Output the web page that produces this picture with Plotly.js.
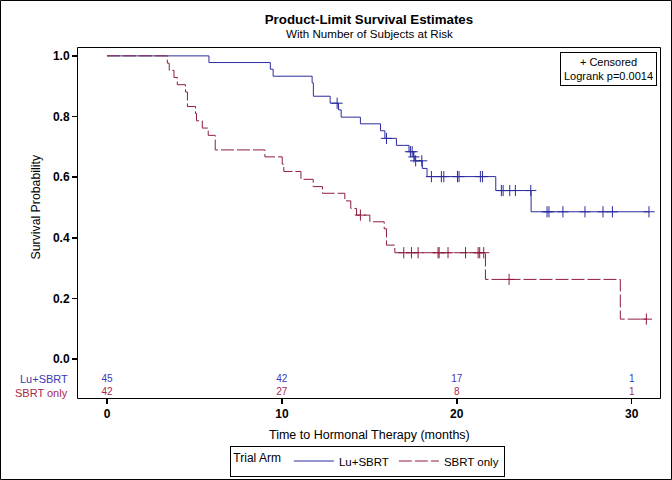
<!DOCTYPE html>
<html>
<head>
<meta charset="utf-8">
<script src="https://cdn.plot.ly/plotly-3.0.1.min.js"></script>
<style>html,body{margin:0;padding:0;background:#fff;}#chart{width:672px;height:480px;}</style>
</head>
<body>
<div id="chart"></div>
<script>
// ---- Data ----
const luTime = [0, 5.83, 9.34, 9.5, 11.73, 11.8, 12.76, 13.24, 13.39, 14.49, 15.64, 15.89, 16.55, 17.27, 17.52, 17.6, 18.03, 18.3, 22.23, 24.25, 30.99];
const luSurv = [1, 0.978, 0.956, 0.933, 0.911, 0.867, 0.844, 0.822, 0.798, 0.776, 0.753, 0.728, 0.705, 0.684, 0.667, 0.654, 0.629, 0.602, 0.556, 0.486, 0.486];
const luCensTime = [13.16, 15.98, 17.35, 17.45, 17.55, 17.65, 18.0, 18.55, 19.12, 19.26, 20.04, 20.13, 21.35, 21.47, 22.55, 22.65, 23.03, 23.35, 24.23, 25.16, 25.27, 26.07, 27.33, 28.36, 28.9, 30.99];
const luCensSurv = [0.844, 0.728, 0.684, 0.684, 0.667, 0.654, 0.654, 0.602, 0.602, 0.602, 0.602, 0.602, 0.602, 0.602, 0.556, 0.556, 0.556, 0.556, 0.556, 0.486, 0.486, 0.486, 0.486, 0.486, 0.486, 0.486];

const sbTime = [0, 3.45, 3.56, 3.83, 4.02, 4.49, 4.6, 5.06, 5.12, 5.45, 5.79, 6.19, 9.03, 10.02, 10.11, 11.09, 11.79, 12.32, 13.6, 13.94, 14.27, 15.03, 15.85, 15.98, 16.46, 21.64, 29.35, 30.84];
const sbSurv = [1, 0.976, 0.952, 0.929, 0.905, 0.881, 0.833, 0.81, 0.786, 0.762, 0.738, 0.69, 0.667, 0.643, 0.619, 0.593, 0.569, 0.547, 0.522, 0.497, 0.475, 0.453, 0.43, 0.376, 0.351, 0.263, 0.132, 0.132];
const sbCensTime = [14.49, 16.97, 17.41, 17.79, 18.93, 18.99, 19.5, 20.5, 21.22, 21.31, 21.54, 22.99, 30.84];
const sbCensSurv = [0.475, 0.351, 0.351, 0.351, 0.351, 0.351, 0.351, 0.351, 0.351, 0.351, 0.351, 0.263, 0.132];

const riskTimes = [0, 10, 20, 30];
const luRisk = [45, 42, 17, 1];
const sbRisk = [42, 27, 8, 1];
const armNames = ['Lu+SBRT', 'SBRT only'];
const yTicks = [0, 0.2, 0.4, 0.6, 0.8, 1.0];
const yTickText = ['0.0', '0.2', '0.4', '0.6', '0.8', '1.0'];
const xTicks = [0, 10, 20, 30];

// ---- Styling ----
const FONT = '"Liberation Sans", Arial, sans-serif';
const BLUE = '#2B2B9E';
const RED = '#8E1D3D';
const BLUE_T = '#3838B8';
const RED_T = '#A8284A';
const RISK_Y = [-0.066, -0.110];
// plot-area pixel box (left, top, width, height) -> paper conversion helpers for frame lines
const PL = 78, PT = 48, PW = 582, PH = 350;
const px = v => (v - PL) / PW;
const py = v => (PT + PH - v) / PH;

const traces = [
  {x: luTime, y: luSurv, mode: 'lines', line: {shape: 'hv', color: BLUE, width: 1}, name: armNames[0], showlegend: true},
  {x: sbTime, y: sbSurv, mode: 'lines', line: {shape: 'hv', color: RED, width: 1, dash: '13px,3px'}, name: armNames[1], showlegend: true},
  {x: luCensTime, y: luCensSurv, mode: 'markers', marker: {symbol: 'cross-thin', size: 8, color: BLUE, line: {color: BLUE, width: 1}}, showlegend: false, hoverinfo: 'skip'},
  {x: sbCensTime, y: sbCensSurv, mode: 'markers', marker: {symbol: 'cross-thin', size: 8, color: RED, line: {color: RED, width: 1}}, showlegend: false, hoverinfo: 'skip'},
  {x: riskTimes, y: riskTimes.map(() => RISK_Y[0]), mode: 'text', text: luRisk.map(String), textfont: {family: FONT, size: 10, color: BLUE_T}, showlegend: false, hoverinfo: 'skip'},
  {x: riskTimes, y: riskTimes.map(() => RISK_Y[1]), mode: 'text', text: sbRisk.map(String), textfont: {family: FONT, size: 10, color: RED_T}, showlegend: false, hoverinfo: 'skip'}
];

const layout = {
  width: 672, height: 480,
  margin: {l: PL, r: 672 - PL - PW, t: PT, b: 480 - PT - PH, autoexpand: false},
  paper_bgcolor: '#fff', plot_bgcolor: '#fff',
  font: {family: FONT, size: 11, color: '#000'},
  title: {text: 'Product-Limit Survival Estimates', font: {family: FONT, size: 13.3, weight: 'bold', color: '#000'}, x: 0.549, xanchor: 'center', y: 1 - 19/480, yanchor: 'middle', yref: 'container', xref: 'container'},
  xaxis: {range: [-1.657, 31.62], tickvals: xTicks, ticks: 'outside', ticklen: 5, tickwidth: 1.6, tickcolor: '#000',
    showline: false, showgrid: false, zeroline: false,
    tickfont: {family: FONT, size: 12, weight: 'bold'}},
  yaxis: {range: [-0.128, 1.026], tickvals: yTicks, ticktext: yTickText, ticks: 'outside', ticklen: 5, tickwidth: 1.6, tickcolor: '#000',
    showline: false, showgrid: false, zeroline: false,
    tickfont: {family: FONT, size: 12, weight: 'bold'}},
  legend: {orientation: 'h', x: 0.498, xanchor: 'center', y: 1 - 461/480, yref: 'container', yanchor: 'middle',
    bordercolor: '#000', borderwidth: 1, font: {family: FONT, size: 11.5}, itemwidth: 40, tracegroupgap: 0,
    title: {text: 'Trial Arm', side: 'left', font: {family: FONT, size: 12}}},
  annotations: [
    {text: 'With Number of Subjects at Risk', xref: 'paper', yref: 'paper', x: 0.5, y: py(34), xanchor: 'center', yanchor: 'middle', showarrow: false, font: {family: FONT, size: 11.6}},
    {text: 'Survival Probability', textangle: -90, xref: 'paper', yref: 'y', x: px(36), y: 0.5, xanchor: 'center', yanchor: 'middle', showarrow: false, font: {family: FONT, size: 12.3}},
    {text: 'Time to Hormonal Therapy (months)', xref: 'paper', yref: 'paper', x: 0.5, y: py(435), xanchor: 'center', yanchor: 'middle', showarrow: false, font: {family: FONT, size: 12.5}},
    {text: '+ Censored<br>Logrank p=0.0014', xref: 'paper', yref: 'paper', x: px(657), y: py(52), xanchor: 'right', yanchor: 'top', showarrow: false, align: 'center', bordercolor: '#000', borderwidth: 1, borderpad: 3, bgcolor: '#fff', font: {family: FONT, size: 11}},
    {text: armNames[0], xref: 'paper', yref: 'y', x: 0, y: RISK_Y[0], xanchor: 'right', yanchor: 'middle', xshift: -8, showarrow: false, font: {family: FONT, size: 11, color: BLUE_T}},
    {text: armNames[1], xref: 'paper', yref: 'y', x: 0, y: RISK_Y[1], xanchor: 'right', yanchor: 'middle', xshift: -8, showarrow: false, font: {family: FONT, size: 11, color: RED_T}}
  ],
  shapes: [
    // plot frame
    {type: 'rect', xref: 'paper', yref: 'paper', x0: px(77.5), x1: px(660.5), y0: py(398.5), y1: py(47.5), line: {color: '#000', width: 1}, fillcolor: 'rgba(0,0,0,0)'},
    // outer image border
    {type: 'rect', xref: 'paper', yref: 'paper', x0: px(0.5), x1: px(671.5), y0: py(479.5), y1: py(0.5), line: {color: '#000', width: 1}, fillcolor: 'rgba(0,0,0,0)'}
  ]
};

Plotly.newPlot('chart', traces, layout, {displayModeBar: false, staticPlot: true});
</script>
</body>
</html>
